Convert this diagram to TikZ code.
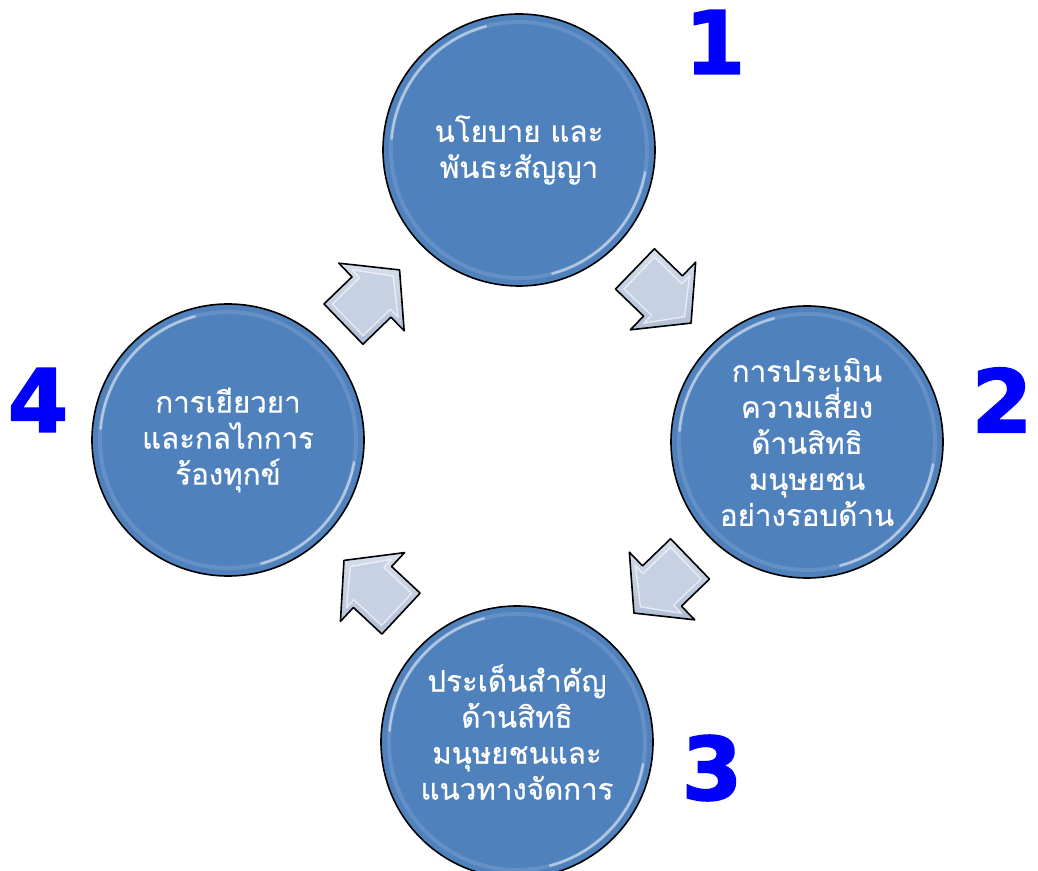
\documentclass[tikz,border=0pt]{standalone}
\usepackage{fontspec}
\newfontfamily\thaifont[Script=Thai, FakeBold=0.5]{Loma}
\newfontfamily\numfont[BoldFeatures={FakeBold=2}]{DejaVu Sans}
\usetikzlibrary{calc}
\definecolor{circblue}{RGB}{79,129,189}
\definecolor{arrfill}{RGB}{198,209,227}
\definecolor{arrdark}{RGB}{176,190,214}
\definecolor{numblue}{RGB}{0,0,255}
\tikzset{
  stage/.style={circle, draw=black, line width=1.6pt, fill=circblue, minimum size=272pt, inner sep=0pt},
  stagetext/.style={text=white, font=\thaifont\fontsize{29.5}{36}\selectfont, align=center, inner sep=0pt},
  numtext/.style={text=numblue, font=\numfont\bfseries\fontsize{87}{87}\selectfont, inner sep=0pt},
  glow/.style={draw=white, line width=2.5pt, draw opacity=0.5, line cap=round},
  softglow/.style={draw=white, line width=4pt, draw opacity=0.12},
  arrowbody/.style={draw=black, line width=1.6pt, line join=round, top color=arrfill!70!white, bottom color=arrdark},
  bevel/.style={draw=white, line width=1.4pt, draw opacity=0.6, fill=arrfill, line join=round},
  blockarrow/.pic={
    \path[arrowbody] (-39,-28) -- (0,-28) -- (0,-47) -- (39,0) -- (0,47) -- (0,28) -- (-39,28) -- cycle;
    \path[bevel] (-33,-22) -- (5,-22) -- (5,-33) -- (30,0) -- (5,33) -- (5,22) -- (-33,22) -- cycle;
  }
}
\begin{document}
\begin{tikzpicture}[x=1pt,y=1pt]
\useasboundingbox (0,0) rectangle (1038,870);
% circles
\node[stage] (c1) at (519,720) {};
\node[stage] (c2) at (807,428) {};
\node[stage] (c3) at (517,128) {};
\node[stage] (c4) at (228,430) {};
\foreach \c in {c1,c2,c3,c4}{
  \draw[softglow] (\c.center) circle (128);
  \draw[glow] (\c.center) ++(105:128) arc (105:175:128);
  \draw[glow] (\c.center) ++(285:128) arc (285:350:128);
}
% texts
\node[stagetext] (t1) at (c1) {นโยบาย และ\\พันธะสัญญา};
\node[stagetext] (t2) at (c2) {การประเมิน\\ความเสี่ยง\\ด้านสิทธิ\\มนุษยชน\\อย่างรอบด้าน};
\node[stagetext] (t3) at ($(c3)+(0,10)$) {ประเด็นสำคัญ\\ด้านสิทธิ\\มนุษยชนและ\\แนวทางจัดการ};
\node[stagetext] (t4) at (c4) {การเยียวยา\\และกลไกการ\\ร้องทุกข์};
% block arrows between the stages
\coordinate (m12) at ($(c1)!0.5!(c2)$);
\coordinate (m23) at ($(c2)!0.5!(c3)+(0,6)$);
\coordinate (m34) at ($(c3)!0.5!(c4)+(0,4)$);
\coordinate (m41) at ($(c4)!0.5!(c1)+(-2,-2)$);
\pic[rotate=-44] at (m12) {blockarrow};
\pic[rotate=224] at (m23) {blockarrow};
\pic[rotate=137] at (m34) {blockarrow};
\pic[rotate=44] at (m41) {blockarrow};
% numbers
\node[numtext] (n1) at (715,828) {1};
\node[numtext] (n2) at (1002,470) {2};
\node[numtext] (n3) at (712,102) {3};
\node[numtext] (n4) at (38,470) {4};
\end{tikzpicture}
\end{document}
